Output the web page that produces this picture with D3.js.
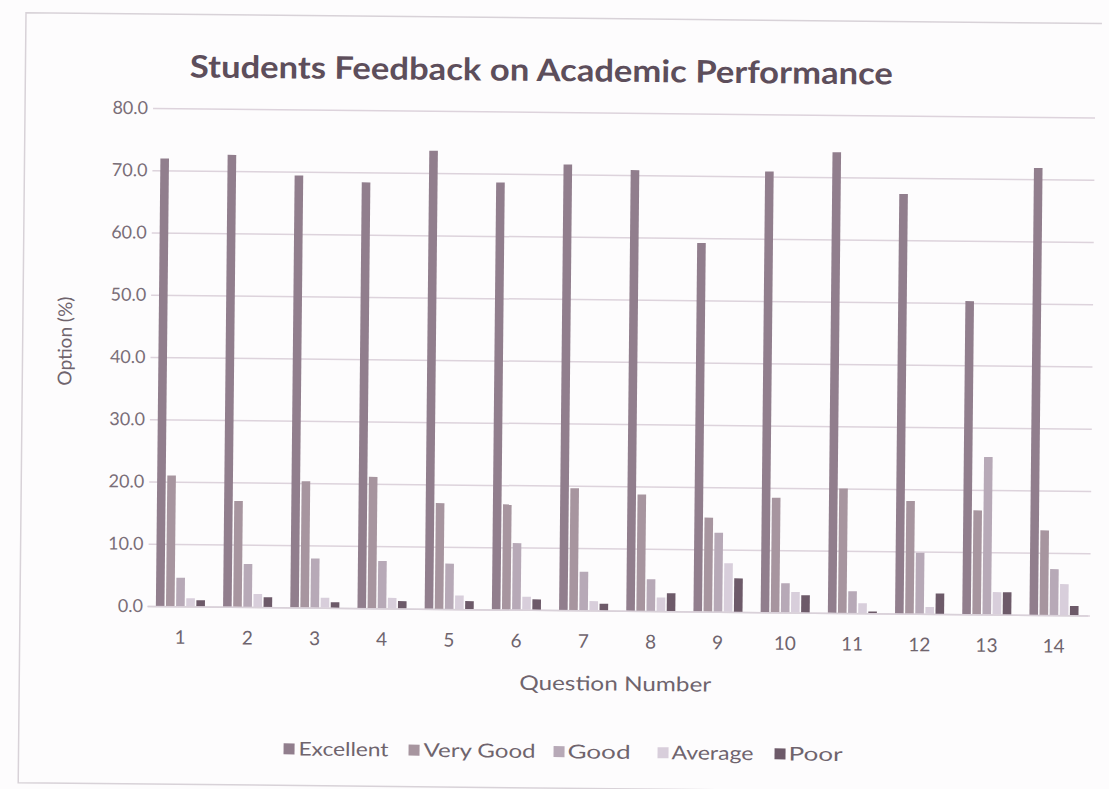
<!DOCTYPE html>
<html>
<head>
<meta charset="utf-8">
<script src="https://cdn.jsdelivr.net/npm/d3@7"></script>
<style>
  html, body { margin: 0; padding: 0; background: #fdfcfd; }
  svg { display: block; }
  text { font-family: Lato, "Open Sans", sans-serif; }
</style>
</head>
<body>
<svg id="chart" width="1109" height="789"></svg>
<script>
const questions = ["1","2","3","4","5","6","7","8","9","10","11","12","13","14"];
const seriesNames = ["Excellent","Very Good","Good","Average","Poor"];
const excellent = [71.9, 72.6, 69.4, 68.4, 73.6, 68.6, 71.6, 70.8, 59.2, 70.8, 74.0, 67.4, 50.3, 71.8];
const veryGood  = [21.0, 17.0, 20.3, 21.1, 17.0, 16.9, 19.6, 18.7, 15.1, 18.4, 20.0, 18.1, 16.7, 13.6];
const good      = [4.6, 6.9, 7.9, 7.6, 7.3, 10.7, 6.2, 5.1, 12.7, 4.7, 3.5, 9.8, 25.3, 7.4];
const average   = [1.3, 2.1, 1.6, 1.7, 2.2, 2.1, 1.5, 2.2, 7.8, 3.3, 1.6, 1.1, 3.6, 5.0];
const poor      = [1.0, 1.6, 0.9, 1.2, 1.3, 1.7, 1.1, 2.9, 5.4, 2.8, 0.3, 3.3, 3.6, 1.5];
const yTicks = [0, 10, 20, 30, 40, 50, 60, 70, 80];
const seriesColors = ["#917e8d", "#a7959f", "#b7a9b7", "#d8cedb", "#6d5a69"];

const seriesValues = [excellent, veryGood, good, average, poor];
const rows = questions.map((q, i) => ({ q, vals: seriesNames.map((s, k) => ({ s, k, v: seriesValues[k][i] })) }));

const svg = d3.select("#chart");
svg.append("rect").attr("width", 1109).attr("height", 789).attr("fill", "#fdfcfd");

// slight scan tilt
const g = svg.append("g").attr("transform", "rotate(0.58,150,606)");

// scanned frame edges (top, left, bottom)
g.append("path")
  .attr("d", "M1096,14 L20,14 L20,784 L1100,784")
  .attr("fill", "none").attr("stroke", "#d8d2d8").attr("stroke-width", 1.5);

const x0 = d3.scaleBand().domain(questions).range([146.8, 1087.6]).paddingInner(0.27).paddingOuter(0.135);
const x1 = d3.scaleBand().domain(seriesNames).range([0, x0.bandwidth()]).paddingInner(0.15);
const y = d3.scaleLinear().domain([0, 80]).range([606, 108]);
const color = d3.scaleOrdinal().domain(seriesNames).range(seriesColors);

// gridlines
g.append("g").attr("class", "grid")
  .attr("transform", "translate(148,0)")
  .call(d3.axisLeft(y).tickValues(yTicks).tickSize(-942).tickFormat(""))
  .call(s => s.select(".domain").remove())
  .call(s => s.selectAll("line").attr("stroke", "#ddd3dc").attr("stroke-width", 1.5));

// y axis labels
g.append("g")
  .attr("transform", "translate(148,0)")
  .call(d3.axisLeft(y).tickValues(yTicks).tickSize(0).tickPadding(5).tickFormat(d3.format(".1f")))
  .call(s => s.select(".domain").remove())
  .call(s => s.selectAll("text").attr("fill", "#7a6e78").style("font-size", "18px").style("font-family", "Lato, sans-serif"));

// bars
const groups = g.append("g").selectAll("g").data(rows).join("g")
  .attr("transform", d => `translate(${x0(d.q)},0)`);
groups.selectAll("rect").data(d => d.vals).join("rect")
  .attr("x", d => x1(d.s))
  .attr("width", x1.bandwidth())
  .attr("y", d => y(d.v))
  .attr("height", d => y(0) - y(d.v))
  .attr("fill", d => color(d.s));

// x axis labels
g.append("g")
  .attr("transform", "translate(0,606)")
  .call(d3.axisBottom(x0).tickSize(0).tickPadding(24))
  .call(s => s.select(".domain").attr("stroke", "#d9d1d9").attr("stroke-width", 1.5))
  .call(s => s.selectAll("text").attr("fill", "#6f646d").style("font-size", "19px").style("font-family", "Lato, sans-serif"));

// title
g.append("text").attr("x", 536).attr("y", 77).attr("text-anchor", "middle")
  .attr("fill", "#5d4e5b").style("font-size", "31px").style("font-weight", "bold")
  .attr("textLength", 703).attr("lengthAdjust", "spacingAndGlyphs")
  .text("Students Feedback on Academic Performance");

// axis titles
g.append("text").attr("x", 616).attr("y", 686).attr("text-anchor", "middle")
  .attr("fill", "#6f646d").style("font-size", "20px")
  .attr("textLength", 192).attr("lengthAdjust", "spacingAndGlyphs")
  .text("Question Number");

g.append("text").attr("transform", "translate(69,342) rotate(-90)").attr("text-anchor", "middle")
  .attr("fill", "#6f646d").style("font-size", "19px")
  .text("Option (%)");

// legend
const legendItems = [
  { name: "Excellent", sx: 285, tx: 300, w: 90 },
  { name: "Very Good", sx: 410, tx: 425, w: 112 },
  { name: "Good", sx: 555, tx: 569, w: 63 },
  { name: "Average", sx: 659, tx: 673, w: 82 },
  { name: "Poor", sx: 776, tx: 790, w: 54 }
];
const lg = g.append("g").selectAll("g").data(legendItems).join("g");
lg.append("rect").attr("x", d => d.sx).attr("y", 742).attr("width", 11).attr("height", 11)
  .attr("fill", d => color(d.name));
lg.append("text").attr("x", d => d.tx).attr("y", 754)
  .attr("fill", "#6f646d").style("font-size", "19px")
  .attr("textLength", d => d.w).attr("lengthAdjust", "spacingAndGlyphs")
  .text(d => d.name);
</script>
</body>
</html>
